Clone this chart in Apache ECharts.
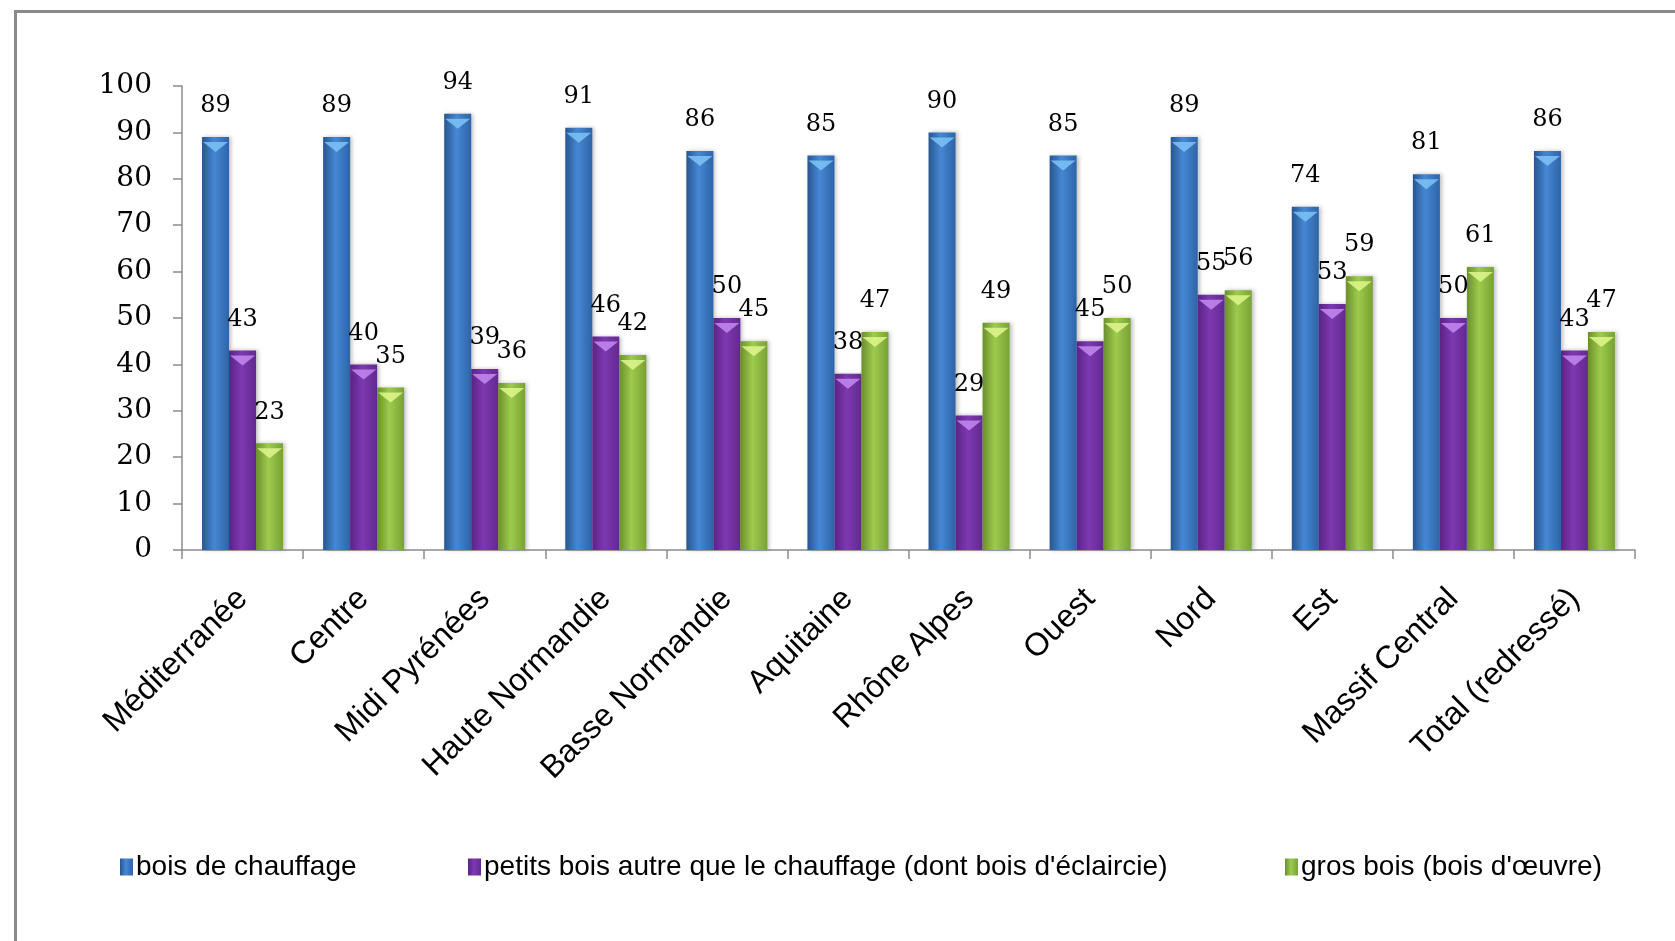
<!DOCTYPE html>
<html>
<head>
<meta charset="utf-8">
<script src="https://cdn.jsdelivr.net/npm/echarts@6/dist/echarts.min.js"></script>
<style>
  html, body { margin: 0; padding: 0; background: #fff; }
  #chart { width: 1675px; height: 941px; }
</style>
</head>
<body>
<div id="chart"></div>
<script>
// régions
var categories = ['Méditerranée', 'Centre', 'Midi Pyrénées', 'Haute Normandie', 'Basse Normandie',
  'Aquitaine', 'Rhône Alpes', 'Ouest', 'Nord', 'Est', 'Massif Central', 'Total (redressé)']
var seriesNames = ['bois de chauffage', 'petits bois autre que le chauffage (dont bois d\'éclaircie)', 'gros bois (bois d\'œuvre)']
var boisChauffage = [89, 89, 94, 91, 86, 85, 90, 85, 89, 74, 81, 86]
var petitsBois = [43, 40, 39, 46, 50, 38, 29, 45, 55, 53, 50, 43]
var grosBois = [23, 35, 36, 42, 45, 47, 49, 50, 56, 59, 61, 47]
var yTicks = [0, 10, 20, 30, 40, 50, 60, 70, 80, 90, 100]

// couleurs : bord, centre, bord, reflet du haut
var palettes = [
  ['#28568f', '#4687d4', '#2e64a6', '#7cc4f7'],
  ['#5a2384', '#7d39b1', '#63298f', '#c489f2'],
  ['#6b8f2d', '#9dcb4c', '#78a235', '#e0f78e']
]
var allData = [boisChauffage, petitsBois, grosBois]

var chart = echarts.init(document.getElementById('chart'))

function grad(p) {
  return new echarts.graphic.LinearGradient(0, 0, 1, 0, [
    { offset: 0, color: p[0] },
    { offset: 0.45, color: p[1] },
    { offset: 1, color: p[2] }
  ])
}

var series = []
allData.forEach(function (d, i) {
  series.push({
    name: seriesNames[i],
    type: 'bar',
    data: d,
    barWidth: 27,
    barGap: '0%',
    itemStyle: {
      color: grad(palettes[i]),
      shadowColor: 'rgba(0,0,0,0.25)',
      shadowBlur: 4,
      shadowOffsetX: 2
    },
    label: {
      show: true,
      position: 'top',
      distance: 19,
      color: '#000',
      fontFamily: 'DejaVu Serif',
      fontSize: 24
    },
    z: 2
  })
})
// petits triangles clairs en haut des barres
allData.forEach(function (d, i) {
  series.push({
    name: 'cap' + i,
    type: 'pictorialBar',
    data: d,
    barWidth: 27,
    barGap: '0%',
    symbol: 'path://M0,0 L10,0 L5,4 Z',
    symbolSize: [25, 10],
    symbolPosition: 'end',
    symbolOffset: [0, '50%'],
    itemStyle: { color: palettes[i][3], opacity: 0.85 },
    silent: true,
    z: 3
  })
})

var legendX = [115, 463, 1280]
var option = {
  animation: false,
  textStyle: { fontFamily: 'Liberation Sans' },
  graphic: [{
    type: 'rect',
    left: 13, top: 9,
    shape: { width: 1700, height: 960 },
    style: { fill: 'none', stroke: '#8a8a8a', lineWidth: 3 },
    silent: true
  }],
  legend: seriesNames.map(function (n, i) {
    return {
      data: [n],
      left: legendX[i],
      top: 848,
      icon: 'rect',
      itemWidth: 13,
      itemHeight: 17,
      itemGap: 4,
      textStyle: { fontFamily: 'Liberation Sans', fontSize: 28, color: '#000', padding: [0, 0, 0, -2] }
    }
  }),
  grid: {
    left: 182,
    right: 40,
    top: 86,
    bottom: 391
  },
  xAxis: {
    type: 'category',
    data: categories,
    axisLine: { lineStyle: { color: '#8c8c8c', width: 1.5 } },
    axisTick: { show: true, length: 9, lineStyle: { color: '#8c8c8c', width: 1.5 } },
    axisLabel: {
      rotate: 45,
      margin: 44,
      fontFamily: 'Liberation Sans',
      fontSize: 32,
      color: '#000'
    }
  },
  yAxis: {
    type: 'value',
    min: yTicks[0],
    max: yTicks[yTicks.length - 1],
    interval: yTicks[1] - yTicks[0],
    axisLine: { show: true, lineStyle: { color: '#8c8c8c', width: 1.5 } },
    axisTick: { show: true, length: 9, lineStyle: { color: '#8c8c8c', width: 1.5 } },
    splitLine: { show: false },
    axisLabel: {
      margin: 30,
      fontFamily: 'DejaVu Serif',
      fontSize: 28,
      color: '#000'
    }
  },
  series: series
}
chart.setOption(option)
</script>
</body>
</html>
